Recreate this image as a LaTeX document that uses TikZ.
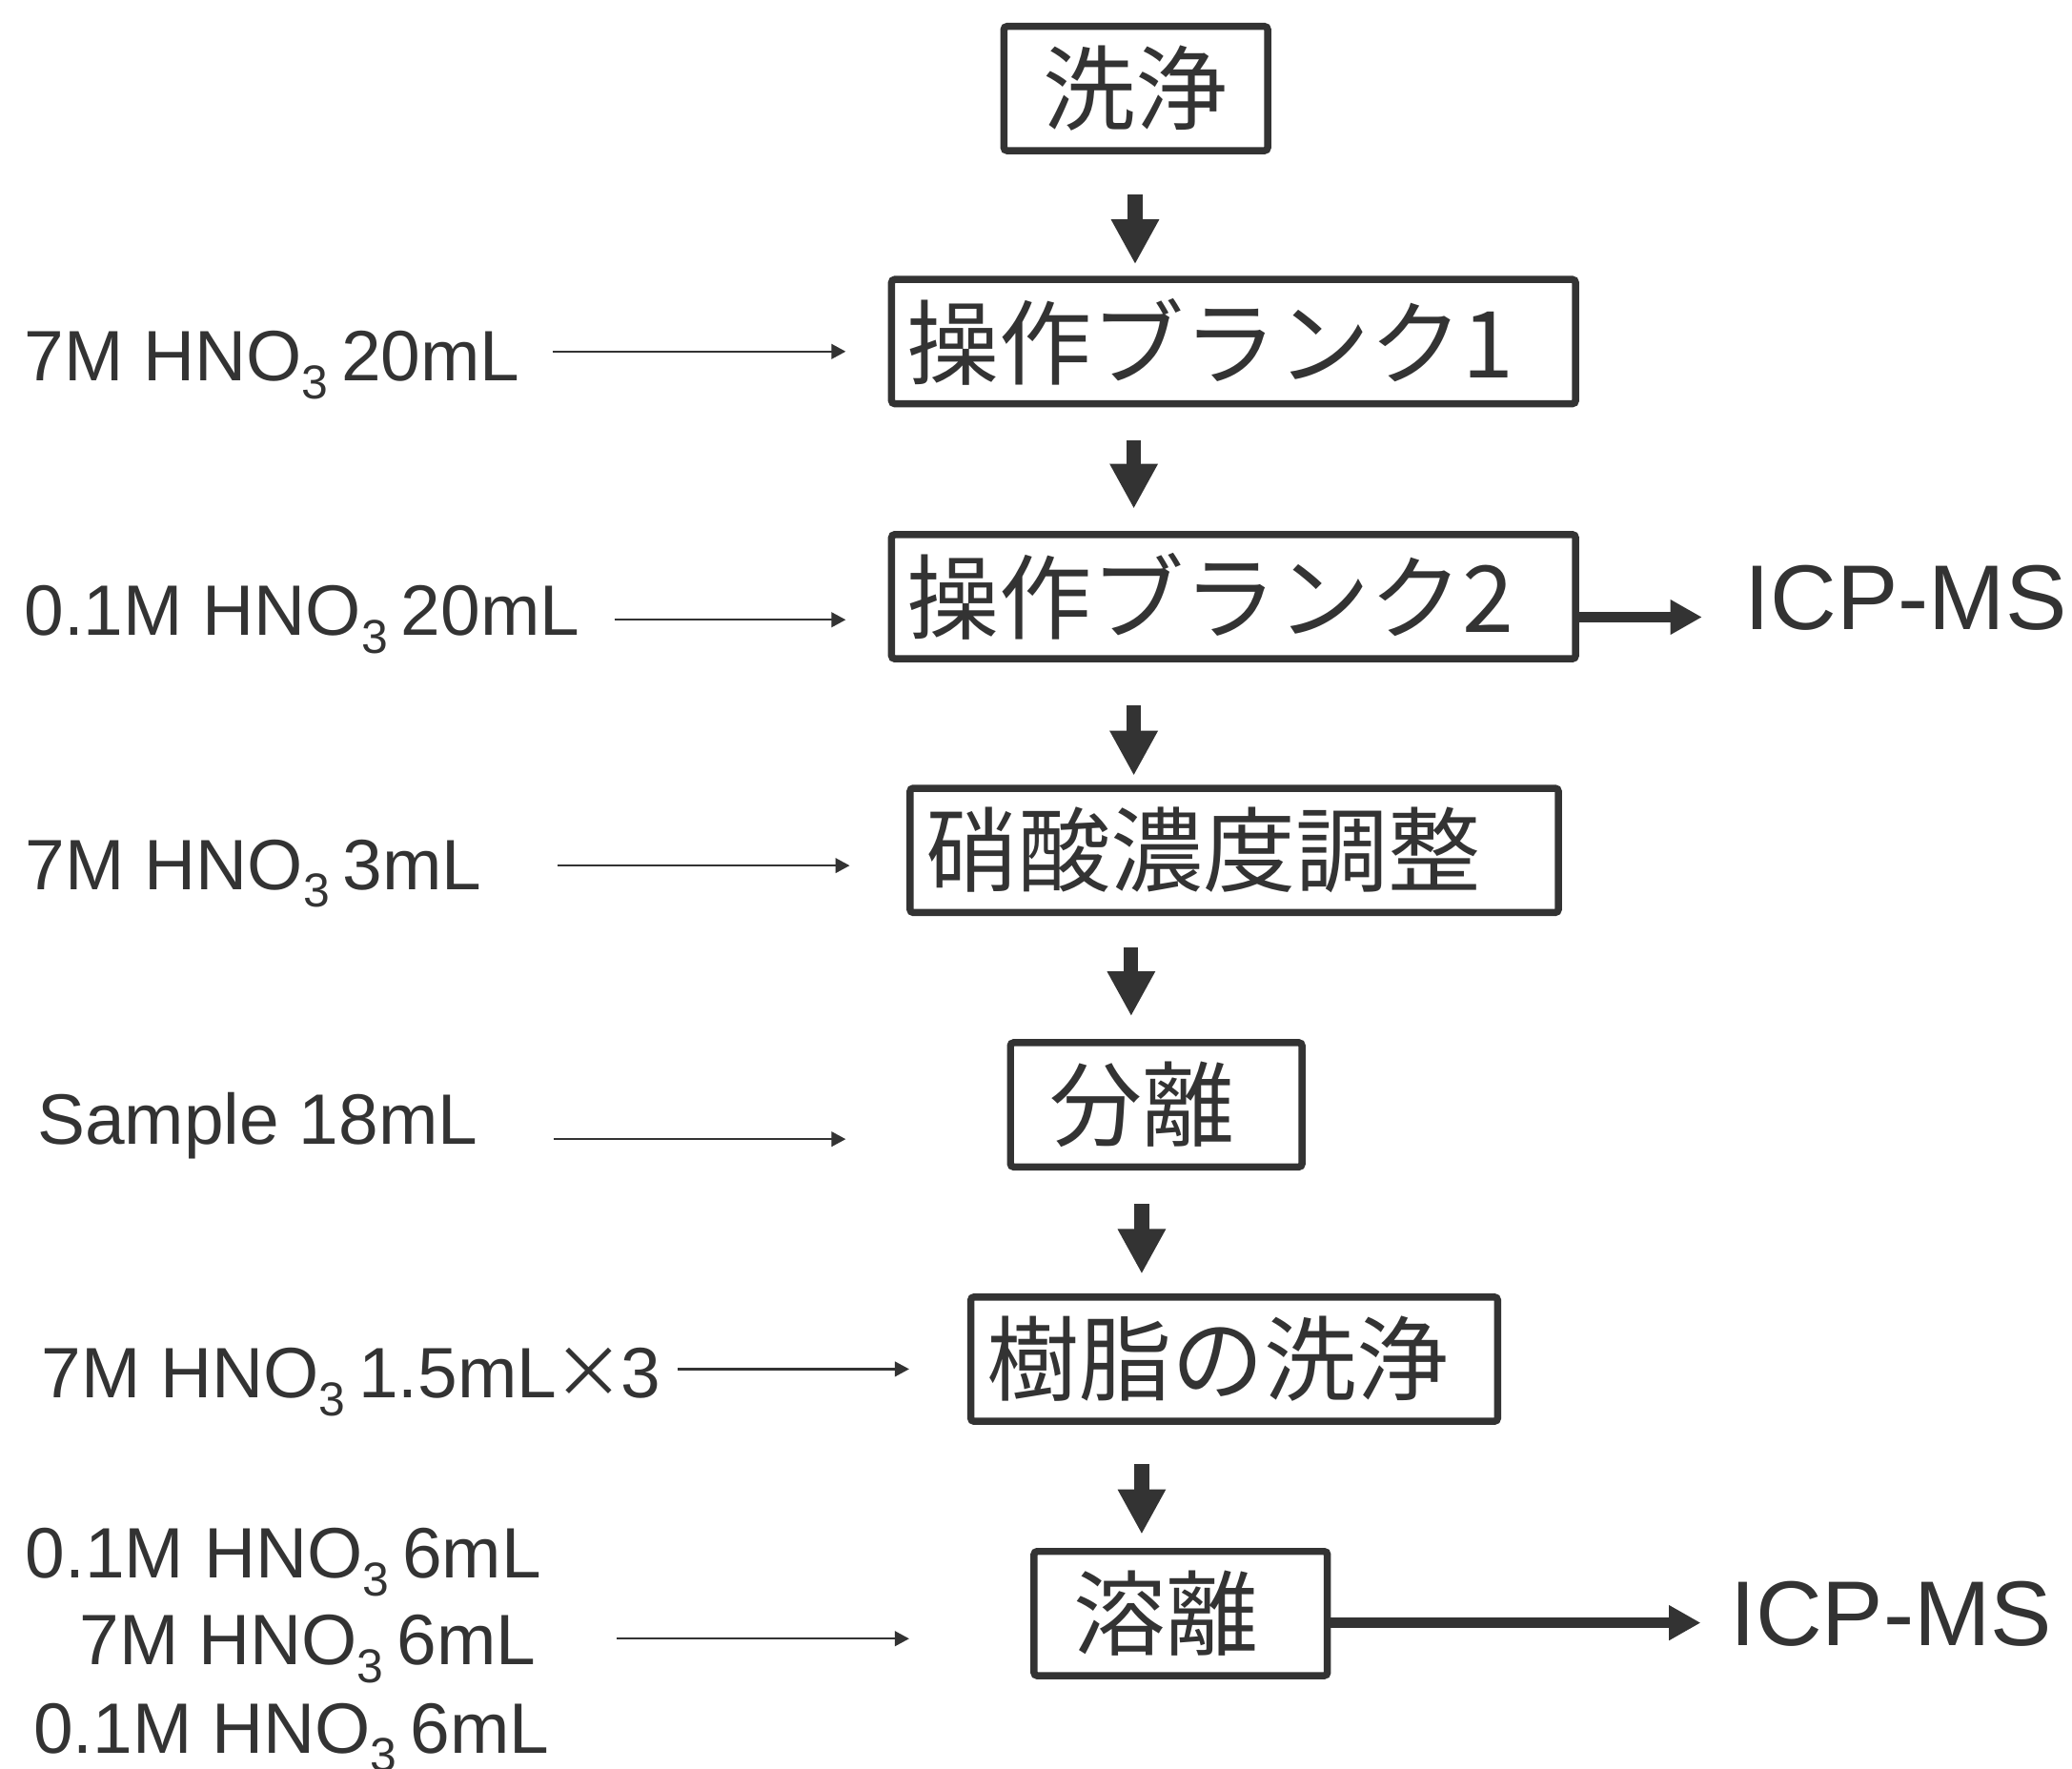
\documentclass[tikz,border=0pt]{standalone}
\usepackage{fontspec}
\setmainfont{Liberation Sans}
\newfontfamily\jp{Noto Sans CJK JP}
\usetikzlibrary{arrows.meta}
\definecolor{ink}{HTML}{333333}
\newcommand{\chemsub}[1]{\raisebox{-6.8pt}{\fontsize{18pt}{18pt}\selectfont #1}\hspace{5pt}}
\newcommand{\timessign}{\makebox[0.9em]{\jp ×}}
\begin{document}
\begin{tikzpicture}[x=0.5pt,y=-0.5pt,
  proc/.style={draw=ink, line width=2.7pt, rounded corners=1.2pt, minimum height=47pt,
    inner ysep=0pt, font=\jp\fontsize{35pt}{35pt}\selectfont, text=ink},
  lab/.style={font=\fontsize{27pt}{27pt}\selectfont, text=ink, inner sep=0pt, anchor=base west},
  icp/.style={font=\fontsize{34.8pt}{34.8pt}\selectfont, text=ink, inner sep=0pt, anchor=base west},
  flow/.style={draw=ink, line width=5.5pt, -{Triangle[width=17pt,length=17pt]}},
  feed/.style={draw=ink, line width=0.85pt, -{Triangle[width=5.6pt,length=5.4pt]}},
  toicp/.style={draw=ink, line width=4.2pt, -{Triangle[width=12.5pt,length=12pt]}}]
\useasboundingbox (0,0) rectangle (1568,1338);

% process boxes
\node[proc, minimum width=99.8pt, inner xsep=0pt] (b1) at (859.5,67) {洗浄};
\node[proc, text width=247pt, inner xsep=5.9pt, align=left] (b2) at (933.5,258.5) {操作ブランク1};
\node[proc, text width=247pt, inner xsep=5.9pt, align=left] (b3) at (933.5,451.5) {操作ブランク2};
\node[proc, text width=233.5pt, inner xsep=5.9pt, align=left] (b4) at (934,643.5) {硝酸濃度調整};
\node[proc, text width=80.5pt, inner xsep=14.9pt, align=left] (b5) at (875,836) {分離};
\node[proc, text width=187.5pt, inner xsep=5.9pt, align=left] (b6) at (934,1028.5) {樹脂の洗浄};
\node[proc, text width=81.2pt, inner xsep=14.9pt, align=left] (b7) at (893.5,1221) {溶離};

% ICP-MS
\node[icp] (icp1) at (1320,476.5) {ICP-MS};
\node[icp] (icp2) at (1309,1245.5) {ICP-MS};

% reagent labels
\node[lab] (l1) at (18,288) {7M HNO\chemsub{3}20mL};
\node[lab] (l2) at (18,481) {0.1M HNO\chemsub{3}20mL};
\node[lab] (l3) at (19,673) {7M HNO\chemsub{3}3mL};
\node[lab] (l4) at (28,865.5) {Sample 18mL};
\node[lab] (l5) at (31,1058) {7M HNO\chemsub{3}1.5mL\timessign3};
\node[lab] (e1) at (19,1194) {0.1M HNO\chemsub{3}6mL};
\node[lab] (e2) at (60,1260) {7M HNO\chemsub{3}6mL};
\node[lab] (e3) at (25,1327) {0.1M HNO\chemsub{3}6mL};

% vertical flow arrows
\coordinate (v1a) at (859,147);  \coordinate (v1b) at (859,200);
\coordinate (v2a) at (858,333);  \coordinate (v2b) at (858,385);
\coordinate (v3a) at (858,534);  \coordinate (v3b) at (858,587);
\coordinate (v4a) at (856,717);  \coordinate (v4b) at (856,769);
\coordinate (v5a) at (864,911);  \coordinate (v5b) at (864,964);
\coordinate (v6a) at (864,1108); \coordinate (v6b) at (864,1161);
\draw[flow] (v1a) -- (v1b);
\draw[flow] (v2a) -- (v2b);
\draw[flow] (v3a) -- (v3b);
\draw[flow] (v4a) -- (v4b);
\draw[flow] (v5a) -- (v5b);
\draw[flow] (v6a) -- (v6b);

% feed arrows
\coordinate (f1a) at (418,266);  \coordinate (f1b) at (640,266);
\coordinate (f2a) at (465,469);  \coordinate (f2b) at (640,469);
\coordinate (f3a) at (422,655);  \coordinate (f3b) at (643,655);
\coordinate (f4a) at (419,862);  \coordinate (f4b) at (640,862);
\coordinate (f5a) at (513,1036); \coordinate (f5b) at (688,1036);
\coordinate (f6a) at (467,1240); \coordinate (f6b) at (688,1240);
\draw[feed] (f1a) -- (f1b);
\draw[feed] (f2a) -- (f2b);
\draw[feed] (f3a) -- (f3b);
\draw[feed] (f4a) -- (f4b);
\draw[feed] (f5a) -- (f5b);
\draw[feed] (f6a) -- (f6b);

% to ICP-MS
\coordinate (i1) at (1288,467);
\coordinate (i2) at (1287,1228);
\draw[toicp] (b3.east |- i1) -- (i1);
\draw[toicp] (b7.east |- i2) -- (i2);
\end{tikzpicture}
\end{document}
